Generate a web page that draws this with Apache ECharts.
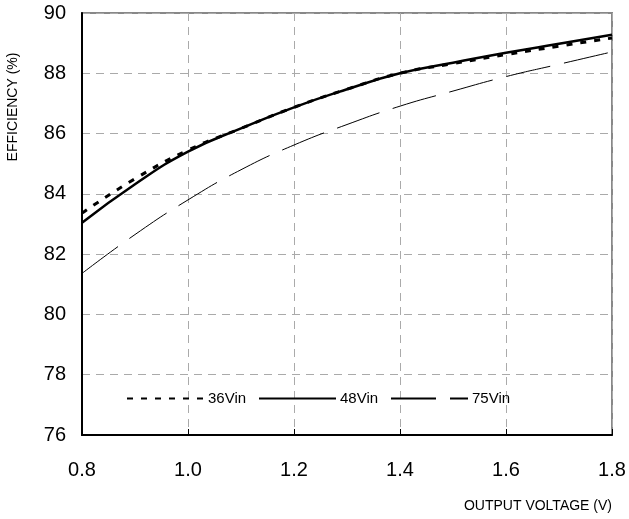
<!DOCTYPE html>
<html><head><meta charset="utf-8">
<script src="https://cdn.jsdelivr.net/npm/echarts@6/dist/echarts.min.js"></script>
<style>html,body{margin:0;padding:0;background:#fff}#c{width:629px;height:519px}</style>
</head><body><div id="c"></div>
<script>
var xVals = [0.8, 0.9, 1.0, 1.1, 1.2, 1.3, 1.4, 1.5, 1.6, 1.7, 1.8];
var v36 = [83.36, 84.5, 85.45, 86.17, 86.87, 87.47, 88.0, 88.32, 88.62, 88.9, 89.17];
var v48 = [83.04, 84.32, 85.4, 86.17, 86.87, 87.47, 88.0, 88.35, 88.68, 88.98, 89.28];
var v75 = [81.36, 82.65, 83.8, 84.8, 85.62, 86.3, 86.91, 87.41, 87.89, 88.3, 88.71];
var names = ['36Vin', '48Vin', '75Vin'];
var yTitle = 'EFFICIENCY (%)';
var xTitle = 'OUTPUT VOLTAGE (V)';

function pairs(v){ return xVals.map(function(x,i){return [x, v[i]];}); }
var font = 'Liberation Sans, Arial, sans-serif';
var chart = echarts.init(document.getElementById('c'));
function lg(name, left){
  return {
    data: [name], left: left, top: 391, padding: 0,
    itemWidth: 77, itemHeight: 10, itemGap: 0,
    itemStyle: {opacity: 0},
    textStyle: {fontFamily: font, fontSize: 15, color: '#000', padding: [0,0,0,-1]}
  };
}
chart.setOption({
  animation: false,
  grid: {left: 82, right: 17, top: 13, bottom: 84, show: true, borderColor: '#888', borderWidth: 2},
  legend: [lg(names[0], 126), lg(names[1], 258), lg(names[2], 390)],
  graphic: [{
    type: 'text', x: 13, y: 107, rotation: Math.PI / 2,
    style: {text: yTitle, fontFamily: font, fontSize: 14, fill: '#000', align: 'center', verticalAlign: 'middle'}
  }],
  xAxis: [{
    type: 'value', min: 0.8, max: 1.8, interval: 0.2,
    axisLine: {lineStyle: {color: '#000', width: 2}},
    axisTick: {inside: true, length: 6, lineStyle: {color: '#000', width: 1}},
    axisLabel: {fontFamily: font, fontSize: 20, color: '#000', margin: 25,
      formatter: function(v){return v.toFixed(1);}},
    splitLine: {lineStyle: {color: '#aaa', type: [8,6], width: 1}},
    name: xTitle, nameLocation: 'end',
    nameTextStyle: {fontFamily: font, fontSize: 14, color: '#000', align: 'right', verticalAlign: 'top', padding: [64,0,0,0]},
    nameGap: 0
  }],
  yAxis: [{
    type: 'value', min: 76, max: 90, interval: 2,
    axisLine: {show: true, lineStyle: {color: '#000', width: 2}},
    axisTick: {show: false},
    axisLabel: {fontFamily: font, fontSize: 20, color: '#000', margin: 16},
    splitLine: {lineStyle: {color: '#aaa', type: [8,6], width: 1}}
  }],
  series: [
    {name: names[0], type: 'line', data: pairs(v36), smooth: 0.5, symbol: 'none', z: 3,
     lineStyle: {color: '#000', width: 3, type: [6,8]}, itemStyle: {color: '#000'}},
    {name: names[1], type: 'line', data: pairs(v48), smooth: 0.5, symbol: 'none', z: 4,
     lineStyle: {color: '#000', width: 2.5, type: 'solid'}, itemStyle: {color: '#000'}},
    {name: names[2], type: 'line', data: pairs(v75), smooth: 0.5, symbol: 'none', z: 2,
     lineStyle: {color: '#000', width: 1, type: [45,14]}, itemStyle: {color: '#000'}}
  ]
});
</script></body></html>
